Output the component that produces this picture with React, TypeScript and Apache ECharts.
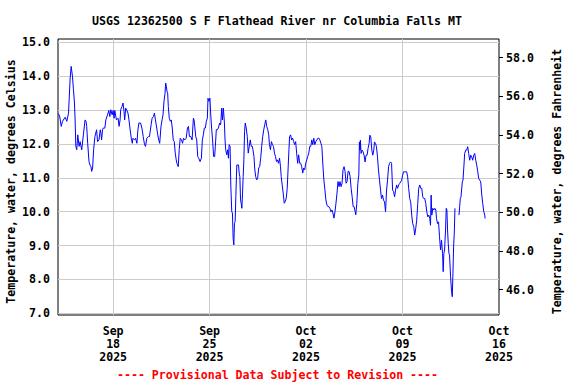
import React, { useEffect, useRef } from "react";
import * as echarts from "echarts";

const TITLE = "USGS 12362500 S F Flathead River nr Columbia Falls MT";
const FOOTER = "---- Provisional Data Subject to Revision ----";
const LEFT_NAME = "Temperature, water, degrees Celsius";
const RIGHT_NAME = "Temperature, water, degrees Fahrenheit";
const MONTHS = ["Jan", "Feb", "Mar", "Apr", "May", "Jun", "Jul", "Aug", "Sep", "Oct", "Nov", "Dec"];

// Start of the plotted period: 2025-09-14 00:00; first labelled tick Sep 18 (hour 96), one tick per week.
const START_UTC = Date.UTC(2025, 8, 14);
const FIRST_TICK_HOUR = 96;
const HOURS_PER_WEEK = 168;
const PERIOD_HOURS = 768; // to Oct 16 00:00

const celsiusRange = [6.95, 15.1];
const fahrenheitRange = [44.68, 58.97];
const fahrenheitTicks = [46, 48, 50, 52, 54, 56, 58];

// [hours since Sep 14 00:00, water temperature °C]
const readingsSep14to25: [number, number | null][] = [
  [0.5, 12.9], [2.8, 12.83], [5.6, 12.52], [7.9, 12.67], [12.5, 12.79], [15.4, 12.67], [18.3, 12.91],
  [21.2, 13.95], [22.9, 14.29], [25.2, 14.0], [26.9, 13.6], [28.7, 13.21], [29.8, 12.71], [31.0, 11.93],
  [32.7, 11.83], [34.4, 12.27], [36.7, 11.93], [38.5, 12.07], [41.3, 11.83], [44.2, 12.27], [47.1, 12.71],
  [48.8, 12.67], [50.0, 12.52], [51.7, 12.02], [54.0, 11.48], [55.7, 11.38], [57.4, 11.33], [58.6, 11.19],
  [60.3, 11.29], [62.0, 11.83], [64.3, 12.22], [67.2, 12.42], [68.9, 12.07], [71.3, 12.12], [73.6, 12.42],
  [74.7, 12.32], [75.9, 12.12], [77.6, 12.42], [78.7, 12.47], [81.6, 12.47], [83.3, 12.71], [86.2, 12.86],
  [88.5, 12.99], [90.2, 12.81], [92.0, 13.01], [94.3, 12.86], [96.0, 12.99], [97.7, 12.76], [98.9, 12.99],
  [101.8, 12.71], [104.6, 12.76], [106.4, 12.52], [108.1, 12.71], [109.2, 13.01], [111.5, 13.11],
  [113.3, 13.21], [115.0, 12.96], [116.1, 12.71], [117.9, 13.06], [119.6, 13.01], [121.9, 12.91],
  [123.6, 12.71], [125.3, 12.47], [127.6, 12.17], [129.4, 12.02], [130.5, 12.17], [133.4, 12.12],
  [135.1, 12.17], [137.4, 12.02], [139.2, 12.42], [140.9, 12.62], [143.8, 12.62], [146.1, 12.47],
  [148.4, 12.22], [150.7, 11.98], [152.4, 11.93], [154.7, 12.17], [157.6, 12.22], [159.3, 12.22],
  [162.2, 12.57], [163.9, 12.76], [166.2, 12.81], [167.9, 12.91], [169.7, 12.71], [172.0, 12.47],
  [173.7, 12.27], [175.4, 12.12], [177.1, 12.02], [179.4, 12.52], [181.2, 12.71], [182.9, 12.86],
  [184.6, 13.26], [186.4, 13.5], [187.5, 13.8], [188.7, 13.7], [189.8, 13.55], [191.0, 13.5],
  [192.1, 13.11], [193.8, 12.76], [195.6, 12.67], [197.3, 12.71], [199.0, 12.47], [200.7, 12.12],
  [202.5, 12.07], [204.2, 11.73], [205.9, 11.53], [207.1, 11.43], [209.4, 11.33], [211.1, 11.83],
  [212.8, 12.17], [215.1, 12.12], [216.9, 12.02], [218.6, 12.17], [220.9, 12.12], [223.2, 12.17],
  [225.5, 12.47], [227.2, 12.52], [228.9, 12.22], [231.2, 12.22], [233.5, 12.12], [235.8, 12.76],
  [237.0, 12.71], [238.1, 12.52], [239.9, 12.22], [241.6, 12.12], [243.3, 11.63], [245.1, 11.58],
  [247.4, 11.48], [249.7, 11.58], [251.4, 12.12], [253.1, 12.27], [254.8, 12.47], [256.6, 12.47],
  [258.3, 12.67], [260.1, 12.76], [261.2, 13.35], [262.9, 13.26], [264.6, 13.35], [265.8, 12.91],
  [267.5, 12.47], [269.2, 12.12], [271.0, 11.63],
];

const readingsSep25toOct06: [number, number | null][] = [
  [272.8, 11.63], [274.0, 11.93], [275.7, 12.42], [277.5, 12.42], [279.2, 12.47], [281.6, 12.62],
  [283.3, 12.57], [285.1, 13.06], [286.3, 12.71], [288.0, 13.06], [289.8, 12.62], [290.9, 12.12],
  [292.1, 11.83], [293.9, 11.68], [295.6, 11.83], [296.8, 11.58], [298.0, 11.98], [299.7, 11.93],
  [300.9, 10.79], [302.6, 10.0], [303.8, 9.96], [305.0, 9.22], [306.2, 9.02], [307.3, 9.66], [308.5, 9.71],
  [309.7, 10.45], [311.4, 11.38], [314.4, 11.38], [315.5, 11.14], [316.7, 11.04], [317.9, 10.35],
  [319.0, 10.25], [320.2, 10.1], [321.4, 10.55], [322.5, 11.04], [323.7, 11.53], [324.9, 12.37],
  [326.1, 12.62], [327.8, 12.47], [329.6, 12.22], [331.3, 11.73], [333.1, 11.93], [334.8, 12.12],
  [336.6, 11.93], [338.4, 11.93], [339.5, 11.83], [341.3, 11.63], [342.5, 11.29], [344.2, 11.04],
  [346.0, 10.94], [347.7, 10.99], [349.5, 11.29], [351.2, 11.33], [353.0, 11.58], [354.7, 11.93],
  [356.5, 12.22], [358.3, 12.42], [360.0, 12.57], [361.8, 12.71], [363.5, 12.52], [365.3, 12.42],
  [367.0, 12.27], [368.2, 11.98], [370.0, 11.83], [371.7, 12.07], [373.5, 11.98], [375.2, 11.93],
  [377.0, 11.73], [378.7, 11.63], [380.5, 11.48], [382.3, 11.53], [384.0, 11.43], [385.8, 11.58],
  [387.5, 11.33], [388.7, 11.04], [390.4, 10.79], [392.2, 10.55], [394.0, 10.25], [395.7, 10.3],
  [397.5, 10.4], [399.2, 10.69], [401.0, 11.38], [402.2, 11.83], [403.3, 12.22], [405.1, 12.27],
  [406.8, 12.12], [408.6, 12.17], [410.4, 12.07], [412.1, 11.98], [413.9, 12.07], [415.6, 11.73],
  [417.4, 11.43], [419.1, 11.68], [420.9, 11.43], [422.7, 11.43], [424.4, 11.33], [426.2, 11.14],
  [427.9, 11.29], [429.7, 11.24], [431.4, 11.43], [433.2, 11.53], [434.9, 11.63], [436.7, 11.73],
  [438.5, 11.93], [440.2, 11.93], [442.0, 12.12], [443.7, 11.98], [445.5, 12.17], [447.2, 11.98],
  [449.0, 12.07], [450.7, 12.12], [452.5, 12.17], [454.3, 12.17], [456.0, 12.12], [457.8, 12.02],
  [459.5, 11.93], [461.3, 11.38], [463.0, 10.94], [464.8, 10.65], [466.5, 10.35], [468.3, 10.2],
  [470.1, 10.15], [471.8, 10.15], [473.6, 10.1], [475.3, 10.0], [477.1, 10.05], [478.8, 9.96],
  [480.6, 9.81], [482.4, 10.0], [484.1, 10.25], [485.9, 10.55], [487.6, 10.89], [489.4, 10.74],
  [491.1, 10.89], [492.9, 10.74], [494.7, 10.84], [496.4, 11.24], [498.2, 11.33], [499.9, 11.19],
  [501.7, 10.84], [503.4, 10.89], [505.2, 11.19], [506.9, 11.19], [508.7, 11.04], [510.5, 10.69],
  [512.2, 10.45], [514.0, 10.15], [515.7, 10.15], [517.5, 10.0], [518.6, 9.91], [520.4, 10.25],
  [522.2, 10.84], [523.9, 11.09],
];

const readingsOct06to15: [number, number | null][] = [
  [524.9, 12.06], [526.0, 11.82], [526.6, 12.11], [527.8, 11.72], [529.5, 11.82], [531.3, 11.77],
  [533.0, 11.67], [534.8, 11.47], [536.5, 11.67], [538.3, 11.67], [540.0, 11.87], [541.8, 12.02],
  [543.0, 12.26], [544.7, 12.21], [546.5, 11.82], [548.2, 11.67], [550.0, 11.82], [551.1, 12.06],
  [552.9, 12.02], [554.6, 11.92], [556.4, 11.62], [558.1, 11.23], [559.9, 10.93], [561.7, 10.64],
  [563.4, 10.39], [565.2, 10.49], [566.9, 10.34], [568.7, 10.29], [570.4, 10.0], [572.2, 10.64],
  [573.9, 10.93], [575.7, 11.33], [577.4, 11.43], [579.2, 11.47], [580.9, 11.43], [582.7, 10.64],
  [584.4, 10.59], [586.2, 10.44], [587.9, 10.64], [589.7, 10.79], [591.4, 10.69], [593.2, 10.79],
  [594.9, 10.83], [596.7, 10.88], [598.4, 10.93], [600.2, 11.08], [601.9, 11.18], [603.7, 11.18],
  [605.4, 11.18], [607.2, 11.18], [608.9, 11.03], [610.7, 10.69], [612.5, 10.39], [614.2, 10.29],
  [616.0, 9.9], [617.7, 9.65], [619.5, 9.56], [621.2, 9.31], [623.0, 9.51], [624.7, 9.75], [626.5, 10.24],
  [628.2, 10.69], [630.0, 10.79], [631.7, 10.69], [633.5, 10.69], [635.2, 10.44], [637.0, 10.39],
  [638.7, 10.39], [640.5, 10.24], [642.2, 10.0], [644.0, 9.85], [645.7, 9.9], [647.5, 9.8], [648.7, 9.6],
  [649.8, 10.49], [651.0, 9.9], [652.7, 10.1], [654.5, 10.05], [656.2, 10.1], [658.0, 10.05], [659.2, 9.8],
  [660.9, 9.65], [662.7, 9.7], [664.4, 9.26], [666.2, 8.87], [667.9, 9.16], [669.7, 8.77], [670.8, 8.23],
  [672.0, 8.77], [673.2, 8.87], [674.9, 9.46], [676.1, 10.1], [677.3, 10.05], [678.4, 9.46], [679.6, 9.06],
  [680.8, 8.77], [681.9, 8.72], [683.7, 8.08], [685.4, 7.64], [686.6, 7.49], [687.8, 8.18], [688.9, 8.96],
  [690.1, 9.36], [691.3, 10.1], [694.8, null], [698.3, 9.9], [699.5, 10.15], [700.6, 10.39],
  [701.8, 10.44], [703.0, 10.44], [704.1, 10.88], [705.3, 10.93], [707.0, 11.38], [708.2, 11.72],
  [710.0, 11.82], [711.8, 11.82], [713.5, 11.92], [715.2, 11.72], [717.0, 11.52], [718.7, 11.67],
  [720.5, 11.62], [722.2, 11.52], [724.0, 11.67], [725.7, 11.72], [727.5, 11.52], [729.2, 11.38],
  [731.0, 11.18], [732.7, 10.98], [734.5, 10.93], [736.2, 10.88], [738.0, 10.49], [739.7, 10.24],
  [741.5, 10.0], [743.2, 9.9], [743.8, 9.8],
];

const FONT_FAMILY = '"DejaVu Sans Mono", "Liberation Mono", monospace';
const FONT_SIZE = 11.6;

const toWeeks = (h: number) => (h - FIRST_TICK_HOUR) / HOURS_PER_WEEK;

export default function App() {
  const ref = useRef<HTMLDivElement>(null);

  useEffect(() => {
    if (!ref.current) return;
    const chart = echarts.init(ref.current, undefined, { renderer: "svg" });
    const all = [...readingsSep14to25, ...readingsSep25toOct06, ...readingsOct06to15];
    const data = all.map(([h, t]) => [toWeeks(h), t == null ? "-" : t]);

    const textBase = {
      fontFamily: FONT_FAMILY,
      fontSize: FONT_SIZE,
      fontWeight: "bold" as const,
      color: "#000",
    };

    chart.setOption({
      animation: false,
      backgroundColor: "#fff",
      grid: {
        left: 58,
        right: 77,
        top: 39,
        bottom: 69,
        containLabel: false,
        outerBoundsMode: "none",
        show: true,
        borderColor: "#000",
        borderWidth: 1,
        backgroundColor: "transparent",
      },
      xAxis: {
        type: "value",
        min: toWeeks(0),
        max: toWeeks(PERIOD_HOURS),
        minInterval: 1,
        maxInterval: 1,
        axisLine: { show: false },
        axisTick: { show: false },
        splitLine: {
          show: true,
          showMinLine: false,
          showMaxLine: false,
          lineStyle: { color: "#cccccc", width: 1 },
        },
        axisLabel: {
          ...textBase,
          showMinLabel: false,
          showMaxLabel: true,
          margin: 9,
          lineHeight: 13,
          formatter: (v: number) => {
            const r = Math.round(v);
            if (Math.abs(v - r) > 1e-6) return "";
            const d = new Date(START_UTC + (FIRST_TICK_HOUR + r * HOURS_PER_WEEK) * 3600000);
            return `${MONTHS[d.getUTCMonth()]}\n${String(d.getUTCDate()).padStart(2, "0")}\n${d.getUTCFullYear()}`;
          },
        },
      },
      yAxis: [
        {
          type: "value",
          position: "left",
          min: celsiusRange[0],
          max: celsiusRange[1],
          minInterval: 1,
          maxInterval: 1,
          name: LEFT_NAME,
          nameLocation: "middle",
          nameRotate: 90,
          nameGap: 41,
          nameMoveOverlap: false,
          nameTextStyle: { ...textBase, padding: [0, 9, 0, 0] },
          axisLine: { show: false },
          axisTick: { show: false },
          splitLine: {
            show: true,
            showMinLine: false,
            showMaxLine: false,
            lineStyle: { color: "#cccccc", width: 1 },
          },
          axisLabel: {
            ...textBase,
            margin: 8,
            showMinLabel: false,
            showMaxLabel: false,
            formatter: (v: number) => v.toFixed(1),
          },
        },
        {
          type: "value",
          position: "right",
          min: fahrenheitRange[0],
          max: fahrenheitRange[1],
          name: RIGHT_NAME,
          nameLocation: "middle",
          nameRotate: 90,
          nameGap: 52,
          nameMoveOverlap: false,
          nameTextStyle: { ...textBase, padding: [0, 9, 0, 0] },
          axisLine: { show: false },
          axisTick: {
            show: true,
            inside: false,
            length: 4,
            customValues: fahrenheitTicks,
            lineStyle: { color: "#000", width: 1 },
          },
          splitLine: { show: false },
          axisLabel: {
            ...textBase,
            margin: 7,
            customValues: fahrenheitTicks,
            formatter: (v: number) => v.toFixed(1),
          },
        },
      ],
      graphic: [
        {
          type: "text",
          x: 277,
          y: 20.5,
          style: {
            text: TITLE,
            align: "center",
            verticalAlign: "middle",
            fill: "#000",
            font: `bold ${FONT_SIZE}px ${FONT_FAMILY}`,
          },
        },
        {
          type: "text",
          x: 277.5,
          y: 374.5,
          style: {
            text: FOOTER,
            align: "center",
            verticalAlign: "middle",
            fill: "#ff0000",
            font: `bold ${FONT_SIZE}px ${FONT_FAMILY}`,
          },
        },
      ],
      series: [
        {
          type: "line",
          xAxisIndex: 0,
          yAxisIndex: 0,
          data,
          showSymbol: false,
          symbol: "none",
          connectNulls: false,
          lineStyle: { color: "#0000ff", width: 1 },
          emphasis: { disabled: true },
        },
      ],
    });

    return () => chart.dispose();
  }, []);

  return (
    <div
      ref={ref}
      style={{ position: "fixed", left: 0, top: 0, width: 576, height: 384, background: "#fff" }}
    />
  );
}
